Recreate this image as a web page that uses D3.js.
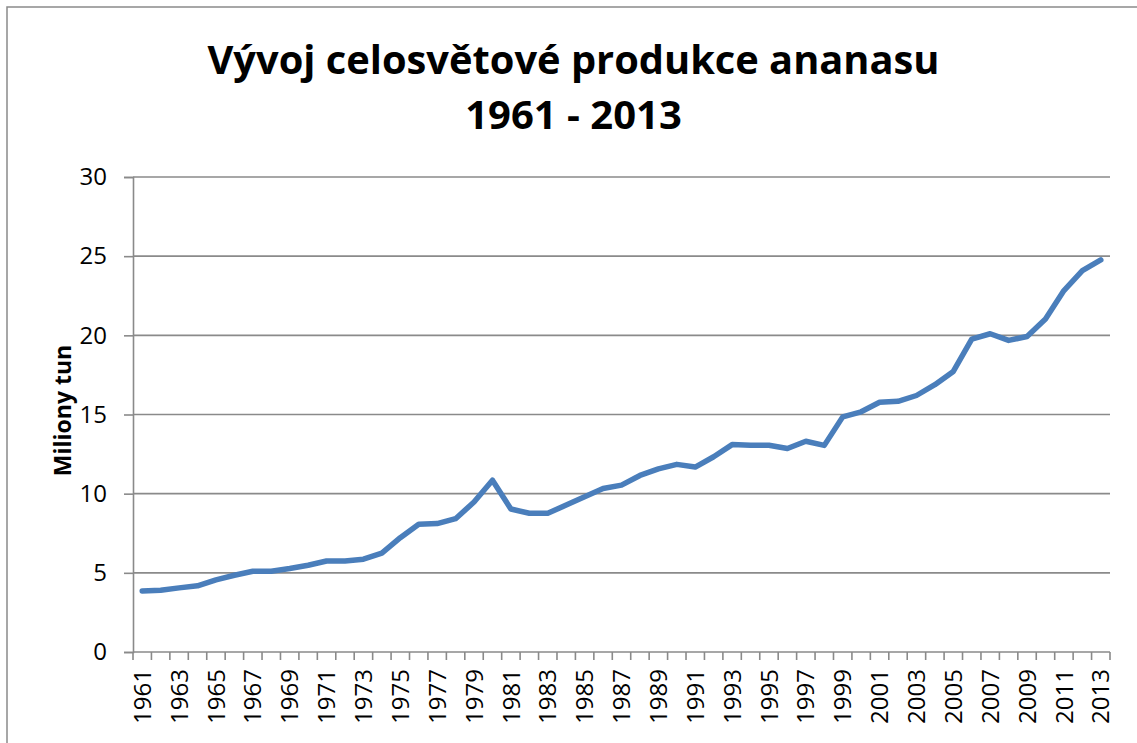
<!DOCTYPE html>
<html>
<head>
<meta charset="utf-8">
<script src="https://cdn.jsdelivr.net/npm/d3@7"></script>
<style>
  html, body { margin: 0; padding: 0; background: #fff; }
  svg { display: block; }
</style>
</head>
<body>
<svg id="chart" width="1137" height="743"></svg>
<script>
// ---- data ----
const years = d3.range(1961, 2014).map(String);
const production = [
  3.86, 3.90, 4.05, 4.18, 4.56, 4.85, 5.10, 5.10, 5.27, 5.48,
  5.75, 5.75, 5.86, 6.24, 7.22, 8.07, 8.11, 8.42, 9.47, 10.85,
  9.03, 8.76, 8.76, 9.28, 9.80, 10.33, 10.54, 11.15, 11.57, 11.85,
  11.68, 12.33, 13.10, 13.06, 13.06, 12.85, 13.31, 13.05, 14.85, 15.17,
  15.77, 15.83, 16.20, 16.88, 17.72, 19.76, 20.10, 19.68, 19.93, 21.03,
  22.83, 24.09, 24.76
];
const yTicks = [0, 5, 10, 15, 20, 25, 30];
const titleLines = ["Vývoj celosvětové produkce ananasu", "1961 - 2013"];
const yTitle = "Miliony tun";

// ---- layout ----
const svg = d3.select("#chart");
const L = 133, R = 1110, T = 177, B = 652;
const gray = "#8a8a8a";

svg.append("rect").attr("x", 7).attr("y", 7).attr("width", 1140).attr("height", 760)
  .attr("fill", "#fff").attr("stroke", gray).attr("stroke-width", 1.5);

const x = d3.scaleBand().domain(years).range([L, R]).paddingInner(0).paddingOuter(0);
const y = d3.scaleLinear().domain([0, 30]).range([B, T]);

// gridlines
svg.append("g").selectAll("line").data(yTicks.filter(d => d > 0)).join("line")
  .attr("x1", L).attr("x2", R)
  .attr("y1", d => y(d)).attr("y2", d => y(d))
  .attr("stroke", gray).attr("stroke-width", 1.6);

// y axis
const yAxis = svg.append("g").attr("transform", `translate(${L},0)`)
  .call(d3.axisLeft(y).tickValues(yTicks).tickSize(9).tickPadding(17));
yAxis.select(".domain").attr("stroke", gray).attr("stroke-width", 1.6);
yAxis.selectAll(".tick line").attr("stroke", gray).attr("stroke-width", 1.6);
yAxis.selectAll(".tick text").attr("fill", "#000")
  .style("font-family", "'Open Sans', sans-serif").style("font-size", "24px");

// x axis line
svg.append("line").attr("x1", L).attr("x2", R).attr("y1", B).attr("y2", B)
  .attr("stroke", gray).attr("stroke-width", 1.6);
// x ticks at category boundaries
const boundaries = years.map(d => x(d)).concat([x(years[years.length - 1]) + x.bandwidth()]);
svg.append("g").selectAll("line").data(boundaries).join("line")
  .attr("x1", d => d).attr("x2", d => d).attr("y1", B).attr("y2", B + 8)
  .attr("stroke", gray).attr("stroke-width", 1.6);
// x labels (every second year)
svg.append("g").selectAll("text").data(years.filter((d, i) => i % 2 === 0)).join("text")
  .attr("transform", d => `translate(${x(d) + x.bandwidth() / 2},${B + 17}) rotate(-90)`)
  .attr("text-anchor", "end").attr("dy", "0.36em")
  .style("font-family", "'Open Sans', sans-serif").style("font-size", "24px")
  .attr("fill", "#000").text(d => d);

// y axis title
svg.append("text")
  .attr("transform", `translate(71,${(T + B) / 2 - 4}) rotate(-90)`)
  .attr("text-anchor", "middle")
  .style("font-family", "'Open Sans', sans-serif").style("font-size", "23px").style("font-weight", "bold")
  .attr("fill", "#000").text(yTitle);

// title
const tTargets = [732, 226];
const tBase = [74, 129];
titleLines.forEach((t, i) => {
  const el = svg.append("text")
    .attr("x", 573.5).attr("y", tBase[i]).attr("text-anchor", "middle")
    .style("font-family", "'Open Sans', sans-serif").style("font-size", "40px").style("font-weight", "bold")
    .attr("fill", "#000").text(t);
  const w = el.node().getComputedTextLength();
  if (w > tTargets[i]) el.attr("textLength", tTargets[i]).attr("lengthAdjust", "spacingAndGlyphs");
});

// line
const line = d3.line()
  .x((d, i) => x(years[i]) + x.bandwidth() / 2)
  .y(d => y(d));
svg.append("path").datum(production)
  .attr("d", line).attr("fill", "none")
  .attr("stroke", "#4a7ebb").attr("stroke-width", 5.5)
  .attr("stroke-linejoin", "round").attr("stroke-linecap", "round");
</script>
</body>
</html>
